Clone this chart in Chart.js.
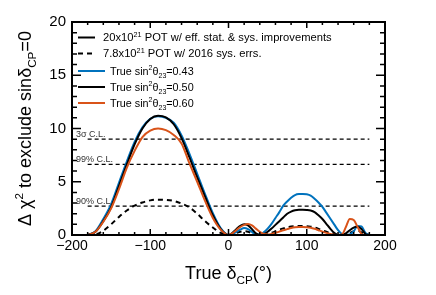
<!DOCTYPE html>
<html>
<head>
<meta charset="utf-8">
<script src="https://cdn.jsdelivr.net/npm/chart.js@4"></script>
<style>
  html, body { margin: 0; padding: 0; background: #fff; }
</style>
</head>
<body>
<canvas id="myChart" width="436" height="295"></canvas>
<script>
// true delta_CP in degrees (10 deg steps on the left lobe, 5 deg on the right part)
const deltaCP = [-180, -170, -160, -150, -140, -130, -120, -110, -100, -90, -80, -70, -60, -50, -40, -30, -20, -10, 0,
  5, 10, 15, 20, 25, 30, 35, 40, 45, 50, 55, 60, 65, 70, 75, 80, 85, 90, 95, 100, 105, 110, 115, 120,
  125, 130, 135, 140, 145, 150, 155, 160, 165, 170, 175, 180];

// delta chi^2 to exclude sin(delta_CP)=0, 20x10^21 POT
const chi2_043 = [0, 0.35, 1.5, 2.9, 4.9, 6.9, 8.75, 10.1, 10.9, 11.15, 11.0, 10.55, 9.35, 7.65, 5.75, 3.85, 2.05, 0.65, 0,
  0.1, 0.3, 0.5, 0.65, 0.55, 0.3, 0.05, 0.05, 0.25, 0.6, 1.05, 1.6, 2.15, 2.75, 3.15, 3.5, 3.75, 3.84, 3.85, 3.82, 3.7, 3.4, 3.05, 2.65,
  2.1, 1.55, 1.0, 0.45, 0.08, 0, 0.05, 0.35, 0.85, 0.8, 0.2, 0];
const chi2_050 = [0, 0.3, 1.3, 2.6, 4.6, 6.6, 8.5, 10.0, 10.9, 11.2, 11.05, 10.4, 9.1, 7.3, 5.4, 3.6, 1.85, 0.55, 0,
  0.2, 0.55, 0.85, 1.0, 0.9, 0.55, 0.15, 0, 0.08, 0.3, 0.6, 0.95, 1.3, 1.65, 2.0, 2.2, 2.32, 2.36, 2.36, 2.35, 2.3, 2.15, 1.85, 1.5,
  1.05, 0.6, 0.2, 0, 0.02, 0.15, 0.45, 0.7, 0.8, 0.55, 0.1, 0];
const chi2_060 = [0, 0.3, 1.25, 2.5, 4.3, 6.3, 7.9, 9.2, 9.8, 10.0, 9.85, 9.4, 8.6, 6.75, 5.0, 3.2, 1.6, 0.5, 0,
  0.15, 0.45, 0.75, 0.95, 1.03, 0.9, 0.6, 0.3, 0.1, 0.05, 0.1, 0.2, 0.32, 0.45, 0.55, 0.65, 0.72, 0.75, 0.75, 0.73, 0.68, 0.58, 0.45, 0.32,
  0.2, 0.1, 0.03, 0, 0.05, 0.75, 1.5, 1.4, 0.75, 0.1, 0, 0];
// 7.8x10^21 POT with 2016 systematics (sin^2 theta23 = 0.50)
const chi2_2016 = [0, 0.05, 0.4, 1.0, 1.7, 2.3, 2.75, 3.05, 3.25, 3.32, 3.3, 3.2, 2.95, 2.6, 2.0, 1.3, 0.7, 0.2, 0,
  0.05, 0.2, 0.3, 0.35, 0.3, 0.15, 0.03, 0, 0.02, 0.1, 0.2, 0.35, 0.5, 0.62, 0.72, 0.8, 0.83, 0.85, 0.85, 0.83, 0.78, 0.7, 0.58, 0.45,
  0.3, 0.17, 0.07, 0.01, 0, 0.05, 0.2, 0.35, 0.4, 0.25, 0.05, 0];

const clLevels = [9, 6.63, 2.71];
const clLabels = ['3σ C.L.', '99% C.L.', '90% C.L.'];
const clRange = [-180, 180];

const xTicks = [-200, -100, 0, 100, 200];
const yTicks = [0, 5, 10, 15, 20];

// legend texts: [text, 'sup'|'sub'|''] pieces
const styleLabels = [
  [['20x10', ''], ['21', 'sup'], [' POT w/ eff. stat. & sys. improvements', '']],
  [['7.8x10', ''], ['21', 'sup'], [' POT w/ 2016 sys. errs.', '']]
];
const theta23 = ['0.43', '0.50', '0.60'];
const colors = ['#0072BD', '#000000', '#D95319'];

const FAM = "'Liberation Sans', Arial, sans-serif";
Chart.defaults.font.family = FAM;

const pts = (ys) => deltaCP.map((x, i) => ({ x: x, y: ys[i] }));

const curve = (ys, color, order, dash) => ({
  data: pts(ys),
  borderColor: color,
  borderWidth: 2,
  borderDash: dash || [],
  pointRadius: 0,
  fill: false,
  cubicInterpolationMode: 'monotone',
  order: order
});

const clSets = clLevels.map(v => ({
  data: clRange.map(x => ({ x: x, y: v })),
  borderColor: '#000',
  borderWidth: 1.3,
  borderDash: [4, 3],
  pointRadius: 0,
  fill: false,
  order: 5
}));

function richWidth(ctx, segs, size) {
  let w = 0;
  for (const [t, m] of segs) {
    ctx.font = (m ? size * 0.65 : size) + 'px ' + FAM;
    w += ctx.measureText(t).width;
  }
  return w;
}

function drawRich(ctx, segs, x, y, size) {
  let cx = x;
  for (const [t, m] of segs) {
    const s = m ? size * 0.65 : size;
    const dy = m === 'sup' ? -size * 0.42 : (m === 'sub' ? size * 0.28 : 0);
    ctx.font = s + 'px ' + FAM;
    ctx.fillText(t, cx, y + dy);
    cx += ctx.measureText(t).width;
  }
}

const rootFrame = {
  id: 'rootFrame',
  afterDraw(chart) {
    const { ctx, chartArea: a } = chart;
    const x = chart.scales.x, y = chart.scales.y;
    ctx.save();
    ctx.setLineDash([]);
    ctx.strokeStyle = '#000';

    // inward ticks on all four sides
    ctx.lineWidth = 1.5;
    ctx.beginPath();
    for (let v = -200; v <= 200; v += 20) {
      const px = x.getPixelForValue(v);
      const len = v % 100 === 0 ? 6 : 3;
      ctx.moveTo(px, a.bottom); ctx.lineTo(px, a.bottom - len);
      ctx.moveTo(px, a.top); ctx.lineTo(px, a.top + len);
    }
    for (let v = 0; v <= 20; v += 1) {
      const py = y.getPixelForValue(v);
      const len = v % 5 === 0 ? 9 : 5;
      ctx.moveTo(a.left, py); ctx.lineTo(a.left + len, py);
      ctx.moveTo(a.right, py); ctx.lineTo(a.right - len, py);
    }
    ctx.stroke();

    // frame
    ctx.lineWidth = 2;
    ctx.strokeRect(a.left, a.top, a.right - a.left, a.bottom - a.top);

    // C.L. labels
    ctx.fillStyle = '#333';
    ctx.font = '9px ' + FAM;
    ctx.textBaseline = 'alphabetic';
    clLevels.forEach((v, i) => {
      ctx.fillText(clLabels[i], a.left + 4, y.getPixelForValue(v) - 2.5);
    });

    // legend
    ctx.fillStyle = '#000';
    const rows = [37.5, 53.5, 71, 87, 103];
    const legLine = (x0, x1, yy, color, dash) => {
      ctx.beginPath();
      ctx.strokeStyle = color;
      ctx.lineWidth = 2;
      ctx.setLineDash(dash);
      ctx.moveTo(x0, yy); ctx.lineTo(x1, yy);
      ctx.stroke();
    };
    legLine(78, 95, rows[0], '#000', []);
    legLine(78, 95, rows[1], '#000', [5, 4]);
    styleLabels.forEach((segs, i) => drawRich(ctx, segs, 103, rows[i] + 3.9, 11.2));
    theta23.forEach((t, i) => {
      legLine(78, 105, rows[i + 2], colors[i], []);
      drawRich(ctx, [['True sin', ''], ['2', 'sup'], ['θ', ''], ['23', 'sub'], ['=' + t, '']], 110, rows[i + 2] + 3.9, 10.8);
    });
    ctx.setLineDash([]);

    // axis titles
    const xt = [['True δ', ''], ['CP', 'sub'], ['(°)', '']];
    drawRich(ctx, xt, (a.left + a.right) / 2 - richWidth(ctx, xt, 18) / 2, 279, 18);

    const yt = [['Δ χ', ''], ['2', 'sup'], [' to exclude sinδ', ''], ['CP', 'sub'], ['=0', '']];
    ctx.translate(31, (a.top + a.bottom) / 2);
    ctx.rotate(-Math.PI / 2);
    drawRich(ctx, yt, -richWidth(ctx, yt, 18) / 2, 0, 18);
    ctx.restore();
  }
};

new Chart(document.getElementById('myChart'), {
  type: 'line',
  data: {
    datasets: [
      curve(chi2_060, colors[2], 0),
      curve(chi2_050, colors[1], 1),
      curve(chi2_043, colors[0], 2),
      curve(chi2_2016, '#000', 3, [5, 4]),
      ...clSets
    ]
  },
  options: {
    responsive: false,
    animation: false,
    layout: { padding: { left: 0, right: 51, top: 22, bottom: 0 } },
    plugins: { legend: { display: false }, tooltip: { enabled: false } },
    scales: {
      x: {
        type: 'linear',
        min: -200,
        max: 200,
        afterFit: (s) => { s.height = 60; },
        afterBuildTicks: (s) => { s.ticks = xTicks.map(v => ({ value: v })); },
        grid: { display: false, drawTicks: false, tickLength: 0 },
        border: { display: false },
        ticks: {
          padding: 3,
          color: '#000',
          font: { size: 14 },
          maxRotation: 0,
          callback: (v) => String(v).replace('-', '\u2212')
        }
      },
      y: {
        min: 0,
        max: 20,
        afterFit: (s) => { s.width = 72; },
        afterBuildTicks: (s) => { s.ticks = yTicks.map(v => ({ value: v })); },
        grid: { display: false, drawTicks: false, tickLength: 0 },
        border: { display: false },
        ticks: { padding: 6, color: '#000', font: { size: 15 } }
      }
    }
  },
  plugins: [rootFrame]
});
</script>
</body>
</html>
